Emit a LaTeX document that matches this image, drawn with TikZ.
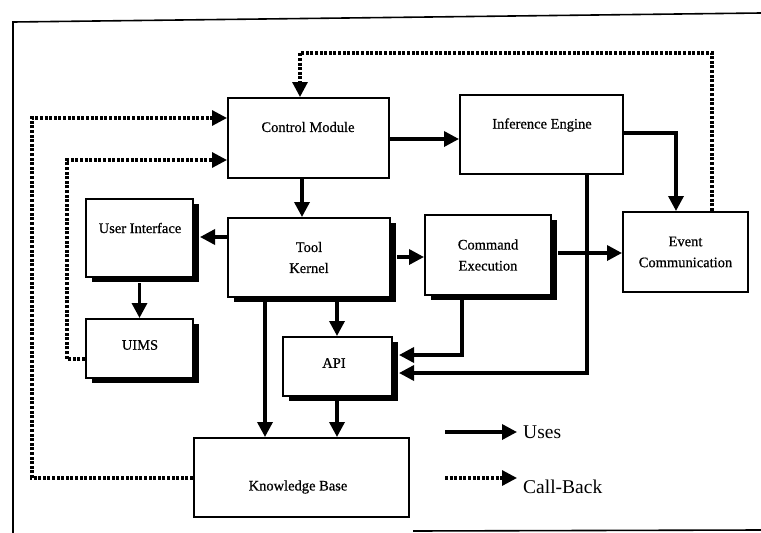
\documentclass[tikz,border=0pt]{standalone}
\usepackage{fontspec}
\setmainfont{Liberation Serif}
\newfontfamily\heavyserif{Liberation Serif}[FakeBold=0.6]
\usetikzlibrary{arrows.meta,shadows}
\begin{document}
\begin{tikzpicture}[x=1pt,y=-1pt,
  box/.style={draw,line width=2pt,fill=white,inner sep=0pt},
  shadowed/.style={drop shadow={shadow xshift=6pt,shadow yshift=-5pt,fill=black,opacity=1}},
  lbl/.style={font=\heavyserif\fontsize{14.5}{21}\selectfont,align=center,inner sep=0pt},
  tip/.style={-{Triangle[length=15pt,width=15pt]}},
  uses/.style={line width=3.4pt,tip},
  callback/.style={line width=3.2pt,dash pattern=on 3pt off 1.6pt,tip},
  frame/.style={line width=1.6pt}]
\useasboundingbox (0,0) rectangle (761,533);
% outer frame
\draw[frame] (13,533) -- (13,22) -- (761,13);
\draw[frame] (413,531) -- (761,530);
% boxes
\node[box,minimum width=161pt,minimum height=80pt] (cm) at (308.5,138) {};
\node[box,minimum width=163pt,minimum height=79pt] (ie) at (541.5,134.5) {};
\node[box,shadowed,minimum width=107pt,minimum height=78pt] (ui) at (139.5,238) {};
\node[box,shadowed,minimum width=162pt,minimum height=79pt,lbl] (tk) at (309,257.5) {Tool\\Kernel};
\node[box,shadowed,minimum width=126pt,minimum height=80pt,lbl] (ce) at (488,255) {Command\\Execution};
\node[box,minimum width=125pt,minimum height=80pt,lbl] (ev) at (685.5,252) {Event\\Communication};
\node[box,shadowed,minimum width=107pt,minimum height=59pt] (uims) at (139.5,348.5) {};
\node[box,shadowed,minimum width=109pt,minimum height=59pt] (api) at (337.5,366.5) {};
\node[box,minimum width=215pt,minimum height=79pt] (kb) at (301.5,477.5) {};
% box texts
\node[lbl] (cmt) at (308,127) {Control Module};
\node[lbl] (iet) at (542,125) {Inference Engine};
\node[lbl] (uit) at (140,228) {User Interface};
\node[lbl] (uimst) at (140,345) {UIMS};
\node[lbl] (apit) at (334,363) {API};
\node[lbl] (kbt) at (298,487) {Knowledge Base};
% helper coordinates (shadow edges)
\coordinate (uiR) at ([xshift=6pt]ui.east);
\coordinate (apiR) at ([xshift=6pt]api.east);
% uses arrows
\draw[uses] (302,0 |- cm.south) -- (302,0 |- tk.north);
\draw[uses] (cm.east |- 0,139) -- (ie.west |- 0,139);
\draw[uses] (ie.east |- 0,133) -| (676,0 |- ev.north);
\draw[uses] (tk.west |- 0,237) -- (uiR |- 0,237);
\draw[uses] ([yshift=-5pt]ui.south) -- (uims.north);
\draw[uses] ([xshift=6pt]tk.east |- 0,257) -- (ce.west |- 0,257);
\draw[uses] ([xshift=6pt]ce.east |- 0,253) -- (ev.west |- 0,253);
\draw[uses] (337,0 |- tk.south) -- (337,0 |- api.north);
\draw[uses] (265,0 |- tk.south) -- (265,0 |- kb.north);
\draw[uses] (337,0 |- api.south) -- (337,0 |- kb.north);
\draw[uses] (462,0 |- ce.south) |- (apiR |- 0,355);
\draw[uses] (587,0 |- ie.south) |- (apiR |- 0,373);
% call-back arrows
\draw[callback] (712,0 |- ev.north) -- (712,53) -| (300,0 |- cm.north);
\draw[callback] (uims.west |- 0,359) -| (67,160) -- (cm.west |- 0,160);
\draw[callback] (kb.west |- 0,478) -| (32,118) -- (cm.west |- 0,118);
% legend
\coordinate (l1a) at (445,432);
\coordinate (l1b) at (517,432);
\coordinate (l2a) at (445,478);
\coordinate (l2b) at (517,478);
\draw[uses] (l1a) -- (l1b);
\draw[callback] (l2a) -- (l2b);
\node[anchor=base west,font=\fontsize{19.5}{22}\selectfont,inner sep=0pt] (usest) at (523,438) {Uses};
\node[anchor=base west,font=\fontsize{19.5}{22}\selectfont,inner sep=0pt] (cbt) at (523,493) {Call-Back};
\end{tikzpicture}
\end{document}
